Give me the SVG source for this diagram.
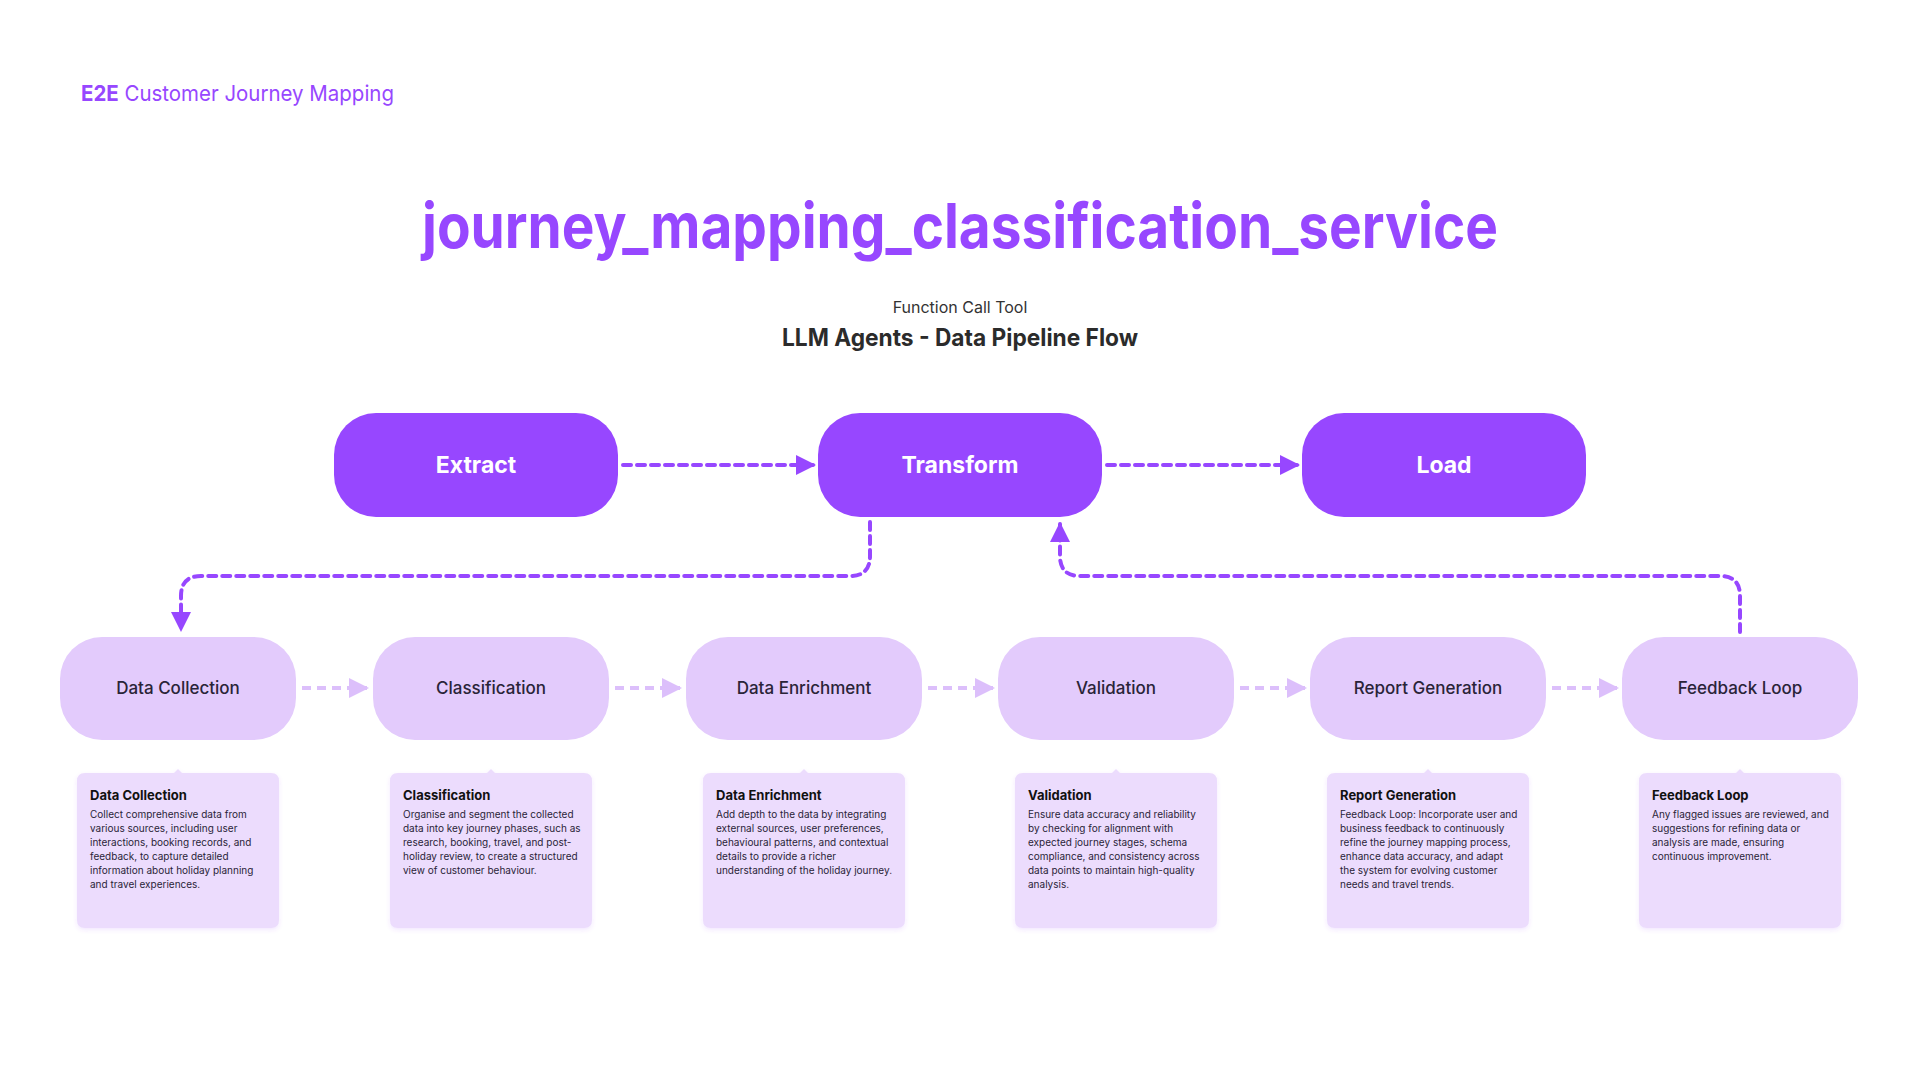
<svg xmlns="http://www.w3.org/2000/svg" width="1920" height="1080" viewBox="0 0 1920 1080">
<defs>
<style>
.hdr{font-family:Inter,"Liberation Sans",sans-serif;font-size:22px;fill:#9747ff}
.title{font-family:Inter,"Liberation Sans",sans-serif;font-size:62px;font-weight:700;fill:#9747ff}
.sub{font-family:Inter,"Liberation Sans",sans-serif;font-size:16px;fill:#333}
.sub2{font-family:Inter,"Liberation Sans",sans-serif;font-size:24px;font-weight:700;fill:#2b2b2b}
.top rect{fill:#9747ff}
.top text{font-family:Inter,"Liberation Sans",sans-serif;font-size:23px;font-weight:700;fill:#fff;text-anchor:middle}
.stage rect{fill:#e3cbfc}
.stage text{font-family:Inter,"Liberation Sans",sans-serif;font-size:17px;font-weight:500;fill:#2a2438;text-anchor:middle}
.desc path{fill:#ecdcfd;filter:url(#sh)}
.desc .t{font-family:Inter,"Liberation Sans",sans-serif;font-size:13px;font-weight:700;fill:#111}
.desc .b{font-family:Inter,"Liberation Sans",sans-serif;font-size:10px;fill:#2a2438}
.dk{fill:none;stroke:#9747ff;stroke-width:4;stroke-dasharray:8 6;stroke-linecap:round}
.lt{fill:none;stroke:#dcbffb;stroke-width:4;stroke-dasharray:9 6}
</style>
<marker id="a1" viewBox="0 0 10 10" markerWidth="20" markerHeight="20" refX="9" refY="5" orient="auto" markerUnits="userSpaceOnUse"><path d="M0,0 L10,5 L0,10z" fill="#9747ff"/></marker>
<marker id="a2" viewBox="0 0 10 10" markerWidth="20" markerHeight="22" refX="9" refY="5" orient="auto" markerUnits="userSpaceOnUse"><path d="M0,0 L10,5 L0,10z" fill="#dcbffb"/></marker>
<filter id="sh" x="-10%" y="-10%" width="120%" height="125%"><feDropShadow dx="0" dy="2" stdDeviation="2" flood-color="#9747ff" flood-opacity="0.12"/></filter>
</defs>
<rect width="1920" height="1080" fill="#fff"/>
<text class="hdr" x="81" y="101" textLength="313" lengthAdjust="spacingAndGlyphs"><tspan font-weight="700">E2E</tspan> Customer Journey Mapping</text>
<text class="title" x="960" y="248" text-anchor="middle" textLength="1076" lengthAdjust="spacingAndGlyphs">journey_mapping_classification_service</text>
<text class="sub" x="960" y="313" text-anchor="middle">Function Call Tool</text>
<text class="sub2" x="960" y="346" text-anchor="middle" textLength="356" lengthAdjust="spacingAndGlyphs">LLM Agents - Data Pipeline Flow</text>

<g id="connectors">
<path class="dk" d="M623,465 H814" marker-end="url(#a1)"/>
<path class="dk" d="M1107,465 H1298" marker-end="url(#a1)"/>
<path class="dk" d="M870,522 V556 Q870,576 850,576 H201 Q181,576 181,596 V630" marker-end="url(#a1)"/>
<path class="dk" d="M1740,632 V596 Q1740,576 1720,576 H1080 Q1060,576 1060,556 V524" marker-end="url(#a1)"/>
<path class="lt" d="M302,688 H367" marker-end="url(#a2)"/>
<path class="lt" d="M615,688 H680" marker-end="url(#a2)"/>
<path class="lt" d="M928,688 H993" marker-end="url(#a2)"/>
<path class="lt" d="M1240,688 H1305" marker-end="url(#a2)"/>
<path class="lt" d="M1552,688 H1617" marker-end="url(#a2)"/>
</g>

<g id="extract" class="top"><rect x="334" y="413" width="284" height="104" rx="42"/><text x="476" y="473">Extract</text></g>
<g id="transform" class="top"><rect x="818" y="413" width="284" height="104" rx="42"/><text x="960" y="473">Transform</text></g>
<g id="load" class="top"><rect x="1302" y="413" width="284" height="104" rx="42"/><text x="1444" y="473">Load</text></g>

<g id="s1" class="stage"><rect x="60" y="637" width="236" height="103" rx="42"/><text x="178" y="694">Data Collection</text></g>
<g id="s2" class="stage"><rect x="373" y="637" width="236" height="103" rx="42"/><text x="491" y="694">Classification</text></g>
<g id="s3" class="stage"><rect x="686" y="637" width="236" height="103" rx="42"/><text x="804" y="694">Data Enrichment</text></g>
<g id="s4" class="stage"><rect x="998" y="637" width="236" height="103" rx="42"/><text x="1116" y="694">Validation</text></g>
<g id="s5" class="stage"><rect x="1310" y="637" width="236" height="103" rx="42"/><text x="1428" y="694">Report Generation</text></g>
<g id="s6" class="stage"><rect x="1622" y="637" width="236" height="103" rx="42"/><text x="1740" y="694">Feedback Loop</text></g>

<g id="d1" class="desc" transform="translate(178,0)">
<path d="M-93,773 H-4 L0,769 L4,773 H93 Q101,773 101,781 V920 Q101,928 93,928 H-93 Q-101,928 -101,920 V781 Q-101,773 -93,773z"/>
<text class="t" x="-88" y="800">Data Collection</text>
<text class="b"><tspan x="-88" y="818">Collect comprehensive data from</tspan><tspan x="-88" dy="14">various sources, including user</tspan><tspan x="-88" dy="14">interactions, booking records, and</tspan><tspan x="-88" dy="14">feedback, to capture detailed</tspan><tspan x="-88" dy="14">information about holiday planning</tspan><tspan x="-88" dy="14">and travel experiences.</tspan></text>
</g>
<g id="d2" class="desc" transform="translate(491,0)">
<path d="M-93,773 H-4 L0,769 L4,773 H93 Q101,773 101,781 V920 Q101,928 93,928 H-93 Q-101,928 -101,920 V781 Q-101,773 -93,773z"/>
<text class="t" x="-88" y="800">Classification</text>
<text class="b"><tspan x="-88" y="818">Organise and segment the collected</tspan><tspan x="-88" dy="14">data into key journey phases, such as</tspan><tspan x="-88" dy="14">research, booking, travel, and post-</tspan><tspan x="-88" dy="14">holiday review, to create a structured</tspan><tspan x="-88" dy="14">view of customer behaviour.</tspan></text>
</g>
<g id="d3" class="desc" transform="translate(804,0)">
<path d="M-93,773 H-4 L0,769 L4,773 H93 Q101,773 101,781 V920 Q101,928 93,928 H-93 Q-101,928 -101,920 V781 Q-101,773 -93,773z"/>
<text class="t" x="-88" y="800">Data Enrichment</text>
<text class="b"><tspan x="-88" y="818">Add depth to the data by integrating</tspan><tspan x="-88" dy="14">external sources, user preferences,</tspan><tspan x="-88" dy="14">behavioural patterns, and contextual</tspan><tspan x="-88" dy="14">details to provide a richer</tspan><tspan x="-88" dy="14">understanding of the holiday journey.</tspan></text>
</g>
<g id="d4" class="desc" transform="translate(1116,0)">
<path d="M-93,773 H-4 L0,769 L4,773 H93 Q101,773 101,781 V920 Q101,928 93,928 H-93 Q-101,928 -101,920 V781 Q-101,773 -93,773z"/>
<text class="t" x="-88" y="800">Validation</text>
<text class="b"><tspan x="-88" y="818">Ensure data accuracy and reliability</tspan><tspan x="-88" dy="14">by checking for alignment with</tspan><tspan x="-88" dy="14">expected journey stages, schema</tspan><tspan x="-88" dy="14">compliance, and consistency across</tspan><tspan x="-88" dy="14">data points to maintain high-quality</tspan><tspan x="-88" dy="14">analysis.</tspan></text>
</g>
<g id="d5" class="desc" transform="translate(1428,0)">
<path d="M-93,773 H-4 L0,769 L4,773 H93 Q101,773 101,781 V920 Q101,928 93,928 H-93 Q-101,928 -101,920 V781 Q-101,773 -93,773z"/>
<text class="t" x="-88" y="800">Report Generation</text>
<text class="b"><tspan x="-88" y="818">Feedback Loop: Incorporate user and</tspan><tspan x="-88" dy="14">business feedback to continuously</tspan><tspan x="-88" dy="14">refine the journey mapping process,</tspan><tspan x="-88" dy="14">enhance data accuracy, and adapt</tspan><tspan x="-88" dy="14">the system for evolving customer</tspan><tspan x="-88" dy="14">needs and travel trends.</tspan></text>
</g>
<g id="d6" class="desc" transform="translate(1740,0)">
<path d="M-93,773 H-4 L0,769 L4,773 H93 Q101,773 101,781 V920 Q101,928 93,928 H-93 Q-101,928 -101,920 V781 Q-101,773 -93,773z"/>
<text class="t" x="-88" y="800">Feedback Loop</text>
<text class="b"><tspan x="-88" y="818">Any flagged issues are reviewed, and</tspan><tspan x="-88" dy="14">suggestions for refining data or</tspan><tspan x="-88" dy="14">analysis are made, ensuring</tspan><tspan x="-88" dy="14">continuous improvement.</tspan></text>
</g>
</svg>
